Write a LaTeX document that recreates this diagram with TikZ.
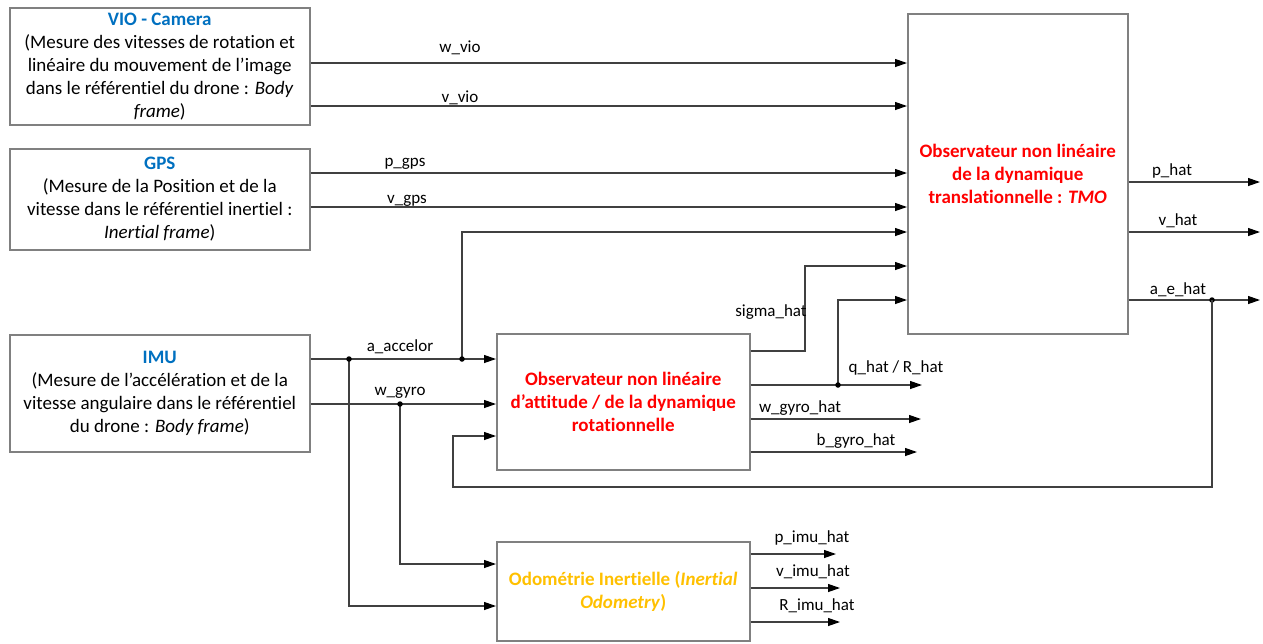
\documentclass[tikz,border=0pt]{standalone}
\usepackage{fontspec}
\setmainfont{Carlito}[Ligatures=CommonOff]
\usetikzlibrary{positioning}
\usetikzlibrary{arrows.meta}

\definecolor{titleblue}{HTML}{0070C0}
\definecolor{obsred}{HTML}{FF0000}
\definecolor{odoyellow}{HTML}{FFC000}
\definecolor{boxgray}{HTML}{808080}
\definecolor{wiregray}{HTML}{404040}

\tikzset{
  block/.style={draw=boxgray,line width=1.5pt,anchor=north west,inner sep=0pt,align=center,
    font=\fontsize{19}{23}\selectfont},
  obsblock/.style={block,font=\fontsize{19}{23}\selectfont\bfseries},
  wire/.style={draw=wiregray,line width=1.2pt},
  sig/.style={wire,-{Triangle[length=12pt,width=8pt,color=black]}},
  lbl/.style={anchor=base,inner sep=0pt},
  jdot/.style={circle,fill=black,inner sep=0pt,minimum size=5.5pt}
}

\begin{document}
\begin{tikzpicture}[x=1pt,y=-1pt,font=\fontsize{17}{21}\selectfont]
\useasboundingbox (0,0) rectangle (1263,643);

  % sensor blocks
  \node[block,minimum width=300pt,minimum height=117pt] at (9,7) (vio)
    {{\color{titleblue}\bfseries VIO - Camera}\\(Mesure des vitesses de rotation et\\lin\'eaire du mouvement de l’image\\dans le r\'ef\'erentiel du drone : \textit{Body}\\\textit{frame})};
  \node[block,minimum width=300pt,minimum height=101pt] at (9,148) (gps)
    {{\color{titleblue}\bfseries GPS}\\(Mesure de la Position et de la\\vitesse dans le r\'ef\'erentiel inertiel :\\\textit{Inertial frame})};
  \node[block,minimum width=300pt,minimum height=117pt] at (9,334) (imu)
    {{\color{titleblue}\bfseries IMU}\\(Mesure de l’acc\'el\'eration et de la\\vitesse angulaire dans le r\'ef\'erentiel\\du drone : \textit{Body frame})};

  % observers
  \node[obsblock,minimum width=220pt,minimum height=320pt,text=obsred] at (907,13) (tmo)
    {Observateur non lin\'eaire\\de la dynamique\\translationnelle : \textit{TMO}};
  \node[obsblock,minimum width=253pt,minimum height=136pt,text=obsred] at (496,333) (att)
    {Observateur non lin\'eaire\\d’attitude / de la dynamique\\rotationnelle};
  \node[obsblock,minimum width=253pt,minimum height=99pt,text=odoyellow] at (496,541) (odo)
    {Odom\'etrie Inertielle (\textit{Inertial}\\\textit{Odometry})};

  % junctions
  \coordinate (accA) at (349,359);
  \coordinate (accB) at (462,359);
  \coordinate (gyrA) at (400,404);
  \coordinate (sigk) at (805,266);
  \coordinate (qdot) at (838,385);
  \coordinate (aedot) at (1212,300);
  \coordinate (fbk) at (453,487);

  % VIO and GPS to TMO
  \draw[sig] (vio.east |- 0,63) -- (tmo.west |- 0,63);
  \draw[sig] (vio.east |- 0,106) -- (tmo.west |- 0,106);
  \draw[sig] (gps.east |- 0,173) -- (tmo.west |- 0,173);
  \draw[sig] (gps.east |- 0,207) -- (tmo.west |- 0,207);
  \node[lbl] at (460,52) (wvio) {w\_vio};
  \node[lbl] at (460,102) (vvio) {v\_vio};
  \node[lbl] at (405,166) (pgps) {p\_gps};
  \node[lbl] at (407,203) (vgps) {v\_gps};

  % IMU signals
  \draw[sig] (imu.east |- accA) -- (att.west |- accA);
  \draw[sig] (accB) |- (tmo.west |- 0,232);
  \draw[sig] (imu.east |- gyrA) -- (att.west |- gyrA);
  \draw[sig] (gyrA) |- (odo.west |- 0,564);
  \draw[sig] (accA) |- (odo.west |- 0,606);
  \foreach \j in {accA,accB,gyrA}
    \node[jdot] at (\j) {};
  \node[lbl] at (400,351) (acclbl) {a\_accelor};
  \node[lbl] at (400,395) (gyrlbl) {w\_gyro};

  % attitude observer outputs
  \draw[sig] (att.east |- 0,351) -| (sigk) -- (tmo.west |- sigk);
  \draw[sig] (att.east |- qdot) -- (922,385);
  \draw[sig] (qdot) |- (tmo.west |- 0,300);
  \node[jdot] at (qdot) {};
  \draw[sig] (att.east |- 0,419) -- (921,419);
  \draw[sig] (att.east |- 0,452) -- (917,452);
  \node[lbl] at (771,316) (siglbl) {sigma\_hat};
  \node[lbl] at (896,372) (qlbl) {q\_hat / R\_hat};
  \node[lbl] at (800,412) (whlbl) {w\_gyro\_hat};
  \node[lbl] at (856,445) (bhlbl) {b\_gyro\_hat};

  % TMO outputs
  \draw[sig] (tmo.east |- 0,182) -- (1260,182);
  \draw[sig] (tmo.east |- 0,232) -- (1260,232);
  \draw[sig] (tmo.east |- aedot) -- (1260,300);
  \node[jdot] at (aedot) {};
  \node[lbl] at (1172,175) (phlbl) {p\_hat};
  \node[lbl] at (1178,225) (vhlbl) {v\_hat};
  \node[lbl] at (1178,294) (aelbl) {a\_e\_hat};

  % feedback of a_e_hat
  \draw[sig] (aedot) |- (fbk) |- (att.west |- 0,436);

  % odometry outputs
  \draw[sig] (odo.east |- 0,554) -- (836,554);
  \draw[sig] (odo.east |- 0,588) -- (840,588);
  \draw[sig] (odo.east |- 0,622) -- (840,622);
  \node[lbl] at (812,542) (pilbl) {p\_imu\_hat};
  \node[lbl] at (813,576) (vilbl) {v\_imu\_hat};
  \node[lbl] at (817,610) (rilbl) {R\_imu\_hat};

\end{tikzpicture}
\end{document}
